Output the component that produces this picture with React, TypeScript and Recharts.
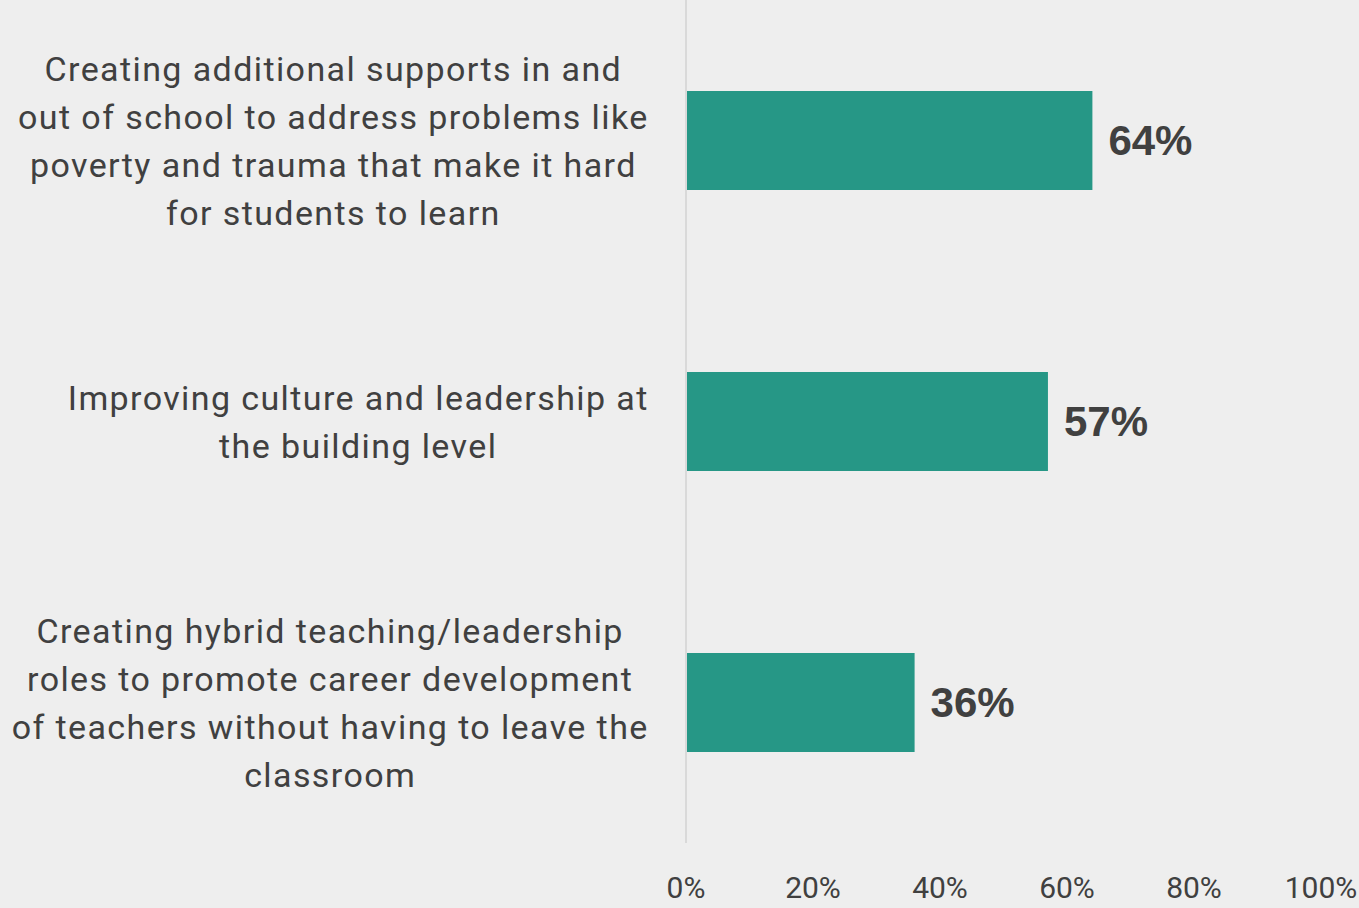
import React from "react";
import { BarChart, Bar, XAxis, YAxis, LabelList } from "recharts";

const categories = [
  "Creating additional supports in and|out of school to address problems like|poverty and trauma that make it hard|for students to learn",
  "Improving culture and leadership at|the building level",
  "Creating hybrid teaching/leadership|roles to promote career development|of teachers without having to leave the|classroom",
];
const values = [0.64, 0.57, 0.36];
const xTicks = [0, 0.2, 0.4, 0.6, 0.8, 1];

const data = categories.map((c, i) => ({ name: c, value: values[i] }));

const TEXT = "#404040";
const LABEL_FONT = "Roboto, 'Noto Sans', sans-serif";
const LABEL_SIZE = 34;
const LETTER_SP = 1.4;
const LINE_H = 48;
const BLOCK_RIGHT = 648;

let ctx: CanvasRenderingContext2D | null = null;
function measure(s: string) {
  if (!ctx) {
    const c = document.createElement("canvas");
    ctx = c.getContext("2d");
  }
  if (!ctx) return s.length * 17;
  ctx.font = `${LABEL_SIZE}px Roboto`;
  return ctx.measureText(s).width + s.length * LETTER_SP;
}

const CatTick = (props: any) => {
  const { y, payload } = props;
  const lines: string[] = String(payload.value).split("|");
  const maxW = Math.max(...lines.map(measure));
  const cx = BLOCK_RIGHT - maxW / 2;
  const startY = y - ((lines.length - 1) * LINE_H) / 2;
  return (
    <g>
      {lines.map((l, i) => (
        <text
          key={i}
          x={cx + LETTER_SP / 2}
          y={startY + i * LINE_H}
          textAnchor="middle"
          dominantBaseline="central"
          fill={TEXT}
          fontFamily={LABEL_FONT}
          fontSize={LABEL_SIZE}
          letterSpacing={LETTER_SP}
        >
          {l}
        </text>
      ))}
    </g>
  );
};

export default function App() {
  return (
    <div style={{ position: "absolute", left: 0, top: 0, width: 1359, height: 908, background: "#eeeeee" }}>
      <BarChart
        width={1359}
        height={908}
        data={data}
        layout="vertical"
        margin={{ top: 0, right: 38, bottom: 0, left: 0 }}
        barCategoryGap={0}
      >
        <XAxis
          type="number"
          domain={[0, 1]}
          ticks={xTicks}
          tickFormatter={(v: number) => `${Math.round(v * 100)}%`}
          axisLine={false}
          tickLine={false}
          height={65}
          tickMargin={28}
          tick={{ fill: TEXT, fontSize: 30, fontFamily: LABEL_FONT }}
          interval={0}
        />
        <YAxis
          type="category"
          dataKey="name"
          width={686}
          axisLine={{ stroke: "#d9d9d9", strokeWidth: 2 }}
          tickLine={false}
          tick={<CatTick />}
          interval={0}
        />
        <Bar dataKey="value" fill="#269786" barSize={99} isAnimationActive={false}>
          <LabelList
            dataKey="value"
            position="right"
            offset={16}
            formatter={(v: number) => `${Math.round(v * 100)}%`}
            fill={TEXT}
            style={{ fontFamily: "'Liberation Sans', Arial, sans-serif", fontWeight: 700, fontSize: 42 }}
          />
        </Bar>
      </BarChart>
    </div>
  );
}
